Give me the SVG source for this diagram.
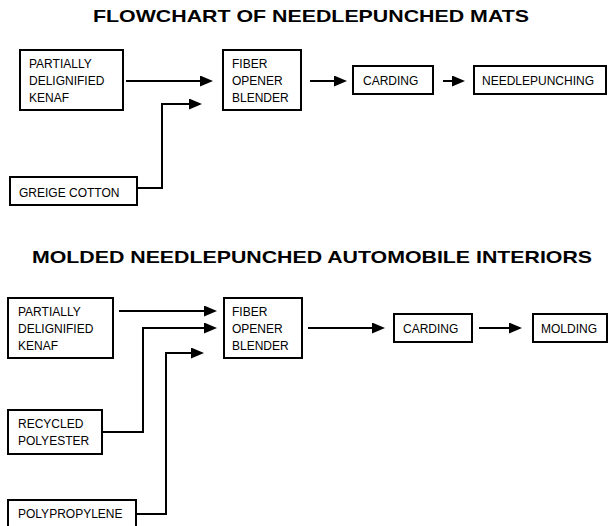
<svg xmlns="http://www.w3.org/2000/svg" width="609" height="526" viewBox="0 0 609 526">
<style>
.box{fill:#fff;stroke:#000;stroke-width:2}
.t{font-family:"Liberation Sans",Arial,sans-serif;font-size:12px;fill:#000}
.title{font-family:"Liberation Sans",Arial,sans-serif;font-size:17px;font-weight:bold;fill:#000}
.c{fill:none;stroke:#000;stroke-width:2}
</style>
<defs>
<marker id="ah" markerUnits="userSpaceOnUse" markerWidth="13" markerHeight="11" refX="10" refY="5.5" orient="auto">
<path d="M0,0 L13,5.5 L0,11 z" fill="#000"/>
</marker>
</defs>
<rect width="609" height="526" fill="#fff"/>
<text class="title" x="93" y="22" textLength="436" lengthAdjust="spacingAndGlyphs">FLOWCHART OF NEEDLEPUNCHED MATS</text>
<text class="title" x="32" y="263" textLength="560" lengthAdjust="spacingAndGlyphs">MOLDED NEEDLEPUNCHED AUTOMOBILE INTERIORS</text>

<g id="connectors">
<path class="c" marker-end="url(#ah)" d="M126,81 H210"/>
<path class="c" marker-end="url(#ah)" d="M138,188 H162 V104 H199"/>
<path class="c" marker-end="url(#ah)" d="M310,81 H344"/>
<path class="c" marker-end="url(#ah)" d="M443,81 H462"/>
<path class="c" marker-end="url(#ah)" d="M119,311 H214"/>
<path class="c" marker-end="url(#ah)" d="M103,432 H143 V328 H214"/>
<path class="c" marker-end="url(#ah)" d="M137,514 H166 V353 H201"/>
<path class="c" marker-end="url(#ah)" d="M308,328 H382"/>
<path class="c" marker-end="url(#ah)" d="M479,328 H519"/>
</g>

<g id="kenaf1"><rect class="box" x="20" y="50" width="103" height="60"/>
<text class="t" x="29" y="68">PARTIALLY</text><text class="t" x="29" y="85">DELIGNIFIED</text><text class="t" x="29" y="102">KENAF</text></g>
<g id="fiber1"><rect class="box" x="223" y="50" width="78" height="60"/>
<text class="t" x="232" y="68">FIBER</text><text class="t" x="232" y="85">OPENER</text><text class="t" x="232" y="102">BLENDER</text></g>
<g id="carding1"><rect class="box" x="353" y="66" width="80" height="28"/>
<text class="t" x="363" y="85">CARDING</text></g>
<g id="needlepunching"><rect class="box" x="474" y="66" width="132" height="28"/>
<text class="t" x="482" y="85">NEEDLEPUNCHING</text></g>
<g id="cotton"><rect class="box" x="10" y="177" width="127" height="28"/>
<text class="t" x="19" y="197">GREIGE COTTON</text></g>

<g id="kenaf2"><rect class="box" x="8" y="298" width="105" height="60"/>
<text class="t" x="18" y="316">PARTIALLY</text><text class="t" x="18" y="333">DELIGNIFIED</text><text class="t" x="18" y="350">KENAF</text></g>
<g id="fiber2"><rect class="box" x="224" y="298" width="78" height="60"/>
<text class="t" x="232" y="316">FIBER</text><text class="t" x="232" y="333">OPENER</text><text class="t" x="232" y="350">BLENDER</text></g>
<g id="carding2"><rect class="box" x="394" y="314" width="78" height="28"/>
<text class="t" x="403" y="333">CARDING</text></g>
<g id="molding"><rect class="box" x="533" y="314" width="74" height="28"/>
<text class="t" x="541" y="333">MOLDING</text></g>
<g id="polyester"><rect class="box" x="8" y="410" width="94" height="44"/>
<text class="t" x="18" y="428">RECYCLED</text><text class="t" x="18" y="445">POLYESTER</text></g>
<g id="polypropylene"><rect class="box" x="8" y="500" width="128" height="40"/>
<text class="t" x="18" y="518">POLYPROPYLENE</text></g>
</svg>
